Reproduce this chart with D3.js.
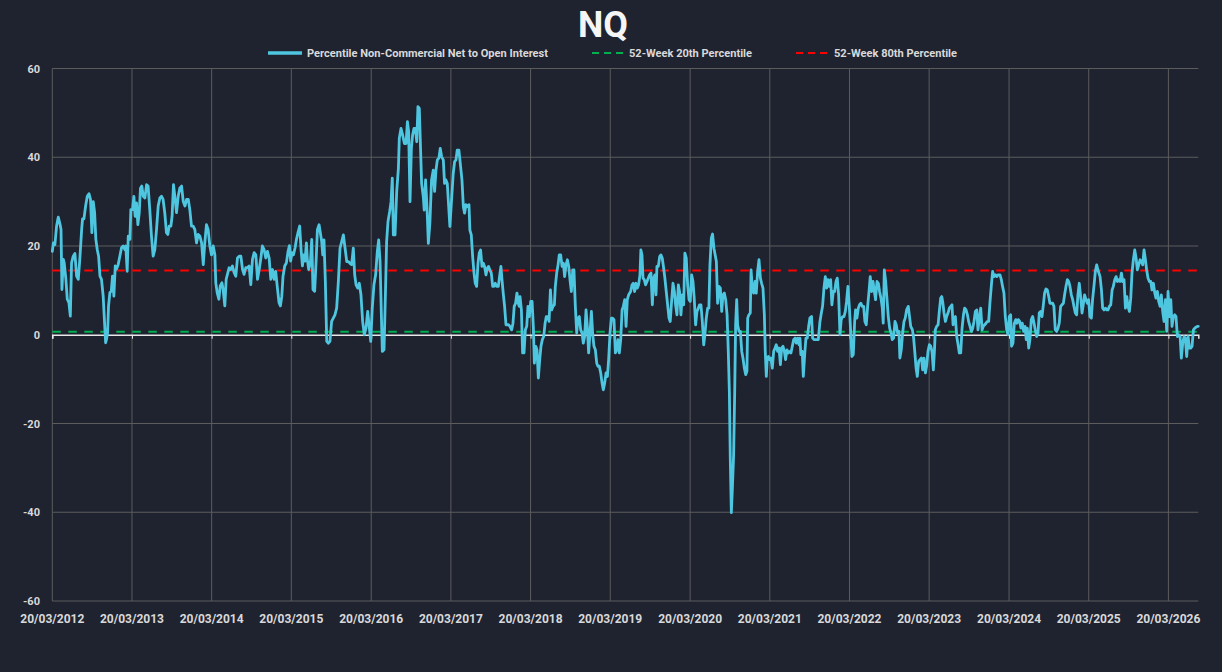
<!DOCTYPE html>
<html>
<head>
<meta charset="utf-8">
<script src="https://cdn.jsdelivr.net/npm/d3@7/dist/d3.min.js"></script>
<style>
  html, body { margin: 0; padding: 0; background: #1f2330; }
  svg { display: block; }
</style>
</head>
<body>
<svg id="chart" width="1222" height="672"></svg>
<script>
// ---------- DATA (week offset from 20/03/2012, value) ----------
const startDate = "2012-03-20";
const lastWeek = 750;
const yTicks = [-60, -40, -20, 0, 20, 40, 60];
const tickYears = [2012, 2013, 2014, 2015, 2016, 2017, 2018, 2019, 2020, 2021, 2022, 2023, 2024, 2025, 2026];
const pct20Level = [0.7];
const pct80Level = [14.5];
const seriesNames = ["Percentile Non-Commercial Net to Open Interest", "52-Week 20th Percentile", "52-Week 80th Percentile"];

const seg2012 = [[0,18.8],[0.7,20.7],[1.7,20.3],[2.8,24.5],[3.9,26.5],[5,25],[5.7,23.7],[6.3,10.2],[7.2,17],[7.8,16.2],[8.9,12.5],[9.8,8],[10.9,7.2],[11.8,4.2],[12.6,16.2],[13.7,17.7],[14.8,18.3],[15.9,13.2],[17,12.5],[18,17],[19.2,23.7],[19.8,26.1],[20.7,26.1],[21.8,29],[22.9,31.2],[24,31.8],[25,30.5],[25.9,23],[26.8,30],[27.7,27.5],[28.5,21.5],[29.4,19.2],[30.3,17.7],[31.2,13.2],[32.2,12.5],[33.3,8.7],[34.2,2.7],[34.9,-1.8],[35.5,-1],[36.2,0.5],[36.8,6.5],[37.7,9.5],[38.6,9.8],[39.4,13.2],[40.3,8.7],[41.2,15.5],[42,14.8],[43.1,15.8],[44.2,17.7],[45.3,19.6],[46.4,20],[47.5,19.2],[48.1,20],[49,14.3],[49.7,22.2],[50.8,21.5],[51.4,28.2],[52.5,28.2],[53.4,31.2],[54.2,26.7],[55.1,29.7],[56,24.8],[56.9,27.5],[57.7,33],[58.6,33.5],[59.5,31.2],[60.6,30.8],[61.7,33.8],[62.7,33.5],[63.8,28.2],[64.9,22.2],[66,17.7],[67.1,19.2],[68.2,23.7],[69.3,29],[70.4,30.8],[71.5,31.2],[72.5,30.5],[73.6,27.5],[74.7,23],[75.6,22.6],[76.5,24.5],[77.6,24.5],[78.4,26.7],[79.3,33.8],[80.2,31.2],[81.3,27.5],[82.4,31.2]];

const seg2014 = [[83.5,33.1],[84.6,33.5],[85.7,30],[86.8,29],[87.9,30.5],[89,30.5],[90,28.2],[91.1,24.5],[92.2,24.5],[93.3,23.7],[94.4,20.7],[95.5,22.6],[96.6,22.2],[97.7,20.7],[98.8,15.8],[99.8,20.7],[100.9,24.8],[102,23.7],[103.1,20],[104.2,18],[105.3,20],[106.4,18],[107,11.7],[107.9,9.5],[109,8],[109.9,11],[111,11.7],[111.8,10.2],[112.9,6.5],[113.8,12.5],[114.9,14],[115.7,15.1],[116.8,14.7],[117.9,15.5],[119,14],[120.1,13.2],[121.2,17.3],[122.3,17.7],[123.4,17.7],[124.5,14.7],[125.5,13.6],[126.6,15.1],[127.7,15.1],[128.8,15.5],[129.9,11.3],[131,17],[132.1,18.5],[133.2,18],[134.3,12.5],[135.4,14.7],[136.4,17],[137.5,20],[138.6,19.2],[139.7,17.3],[140.8,18.8],[141.9,17.3],[143,12.5],[144.1,14.7],[145.2,12.5],[146.2,14.3],[147.3,10.6],[148.4,7.2],[149.3,6.5],[150.2,8.7],[151,13.2],[152.1,15.5],[153.2,16.2],[154.3,18.8],[155.2,20.1],[156,16.6],[156.9,18.5],[157.8,18],[158.9,19.6],[159.8,21.5],[160.8,23],[161.9,24.5],[162.8,19.2],[163.7,15.5],[164.5,18],[165.4,16.6],[166.3,20.7],[166.9,17],[167.8,14.7],[168.9,16.2],[169.8,21.5],[170.6,10.2],[171.7,9.8],[172.6,16.2],[173.5,23.7],[174.6,24.8]];

const seg2015 = [[176.3,21],[177,18],[177.8,21.4],[178.7,12],[179.6,-1.5],[180.7,-1.9],[181.7,-1.5],[182.8,3],[183.9,3.75],[185,4.5],[186.1,6],[187.2,12],[188.3,19.5],[189.4,21],[190.5,22.5],[191.6,19.5],[192.7,16.5],[193.7,16.5],[194.8,16.1],[195.9,15.8],[197,19.5],[197.9,13.5],[198.8,11.25],[199.9,10.5],[200.9,11.6],[202,9],[203.1,3],[204.2,0],[205.3,1.5],[206.4,5.25],[207.5,1.5],[208.4,-1.5],[209.4,6],[210.5,11.25],[211.6,13.5],[212.7,18.75],[213.6,21.4],[214.5,16.5],[215.3,5.25],[216,-3.75],[217.1,-3.4],[218,9],[218.8,21],[219.7,25.5],[220.8,27.8],[221.7,30],[222.5,35.3],[223.2,22.5],[224.3,22.5],[225.4,32.3],[226.5,37.5],[227.1,44.3],[228.2,46.5],[229.3,45],[230.4,43.1],[231.5,43.1],[232.4,48],[233.2,45.8],[234.1,30],[235,42],[235.8,45],[236.7,46.5],[237.6,46.5],[238.5,43.5],[239.3,51.4],[240.2,51]];

const seg2016 = [[241.7,34.1],[242.8,31.1],[243.4,28.1],[244.3,34.9],[245.2,28.9],[246.1,20.6],[247.1,25.1],[248.2,34.9],[249.3,37.1],[250.2,32.3],[251.1,37.1],[252,39.4],[253,39.8],[253.9,42],[254.8,40.1],[255.9,39.4],[256.7,34.1],[257.6,34.9],[258.5,34.1],[259.4,28.9],[260.2,24.4],[261.3,30.4],[262.4,36.4],[263.3,39],[264.2,39.4],[265,41.6],[266.1,41.6],[267,38.6],[268.1,34.9],[269,28.9],[269.8,27.4],[270.7,29.3],[271.8,28.9],[272.7,29.3],[273.3,23.6],[274.2,22.5],[275.1,17.6],[276,13.9],[276.8,11.6],[277.7,10.9],[278.6,16.1],[279.4,18.4],[280.3,19.1],[281.2,15.4],[282.1,16.1],[282.9,15.4],[283.8,13.5],[284.7,15],[285.5,15.4],[286.4,14.6],[287.3,13.9],[288.2,10.9],[289,10.9],[289.9,11.6],[290.8,10.9],[291.9,10.9],[292.7,13.1],[293.6,15.4],[294.3,12.4],[295.1,9.4],[296,6.4],[296.9,2.25],[297.8,2.25],[298.6,2.25],[299.5,1.9],[300.6,1.1],[301.5,2.6],[302.3,6.4],[303.2,7.1],[304.1,9.4],[305,7.1],[305.6,6.4]];

const seg2018 = [[306.1,8.6],[307,5.6],[307.8,-4.1],[308.7,-4.1],[309.6,1.1],[310.5,1.9],[311.3,6.4],[312.2,4.1],[313.1,7.5],[314,7.5],[314.8,1.9],[315.5,-6.4],[316.4,-2.6],[317.2,-3.4],[318.1,-9.75],[319,-5.6],[319.8,-2.6],[320.7,-1.1],[321.6,-0.4],[322.5,2.6],[323.3,4.1],[324.2,4.1],[325.1,3],[326,10.1],[326.8,5.6],[327.7,6.4],[328.6,6.75],[329.2,10.9],[330.1,13.9],[331,15.75],[331.8,18],[332.7,18],[333.6,15.4],[334.5,16.1],[335.3,13.1],[336.2,15.75],[337.1,16.9],[338,15.4],[338.8,12.4],[339.7,9.75],[340.6,14.6],[341.4,14.6],[342.3,6.4],[343.2,0.4],[344,3.75],[344.9,4.1],[345.8,1.1],[346.7,0.4],[347.5,-1.9],[348.4,-0.4],[349.3,5.6],[350.2,1.5],[351,-4.1],[351.9,0.4],[352.8,5.25],[353.7,0],[354.5,-2.6],[355.4,-3.4],[356.3,-6.4],[357.1,-7.1],[358,-7.1],[358.9,-8.6],[359.8,-10.9],[360.6,-12.4],[361.5,-10.9],[362.4,-8.6],[363.3,-9.4],[364.1,-5.6],[365,0.4],[365.9,3.75],[366.7,3.75],[367.6,3.4],[368.5,-4.1],[369.4,-3.4],[370.2,-1.1],[371.1,-4.1],[372,-1.1],[372.9,5.6],[373.7,6.4],[374.6,7.9],[375.5,1.9],[376.3,7.9],[377.2,9]];

const seg2019 = [[378.5,9.75],[379.4,11.25],[380.2,11.6],[381.1,9.75],[382,11.6],[382.8,10.5],[383.7,11.25],[384.6,13.5],[385.2,19.1],[385.9,18],[386.6,12.75],[387.4,12.4],[388.3,11.25],[389.2,12],[390,12.75],[390.9,13.5],[391.8,13.9],[392.7,6.75],[393.5,12.75],[394.4,13.5],[395.1,9],[395.7,15.4],[396.6,15.4],[397.5,17.6],[398.3,18],[399.2,17.25],[400.1,15],[400.9,12.75],[401.8,9.75],[402.7,6.75],[403.6,3.75],[404.4,3],[405.3,7.5],[406.2,11.6],[407.1,9.75],[407.9,6.75],[408.8,4.5],[409.7,11.25],[410.5,9.75],[411.4,4.5],[412.3,9],[413.2,6.75],[414,18.4],[414.9,17.25],[415.8,11.25],[416.7,7.9],[417.5,7.5],[418.4,13.5],[419.3,12],[420.1,8.25],[421,2.25],[421.9,5.25],[422.8,6],[423.6,6.75],[424.5,6.75],[425.4,3],[426.3,-2.25],[427.1,0],[428,3.75],[428.9,6],[429.7,6],[430.4,15.75],[431.3,21.75],[432.1,22.7],[433,19.5]];

const seg2020 = [[434.6,16.5],[435.4,7.1],[436.3,10.9],[437.2,10.5],[438.1,5.25],[438.9,9],[439.8,9.4],[440.7,7.9],[441.6,4.5],[442.4,-3.75],[443.1,-12.75],[443.7,-27.75],[444.4,-40.1],[445,-35.25],[445.9,-27],[446.6,-12.75],[447.2,2.25],[447.9,7.9],[448.5,2.25],[449.4,0.75],[450.3,0.75],[451.2,-3.75],[452,-5.25],[452.9,-7.5],[453.8,-9],[454.6,-8.25],[455.1,3.75],[455.9,4.5],[456.8,4.9],[457.3,14.6],[458.1,10.5],[459,9.4],[459.9,12],[460.7,9.4],[461.6,14.25],[462.5,16.9],[463.4,12.75],[464.2,11.6],[465.1,10.5],[466,4.5],[466.6,-3.75],[467.3,-9.4],[467.9,-5.25],[468.6,-4.9],[469.5,-5.6],[470.3,-5.25],[471.2,-7.5],[472.1,-3.75],[473,-3],[473.8,-2.25],[474.7,-3.75],[475.6,-3],[476.5,-6.75],[477.3,-3],[478.2,-2.6],[479.1,-3.75],[479.9,-5.6],[480.8,-3.4],[481.7,-4.1],[482.6,-3.75],[483.4,-4.1],[484.3,-2.6],[485.2,-1.1],[486.1,-0.75],[486.9,-1.9],[487.8,-0.75],[488.7,-2.25]];

const seg2021 = [[489.3,-0.75],[489.9,-4.5],[490.8,-3.75],[491.5,-9.4],[492.4,-4.5],[493.2,-0.75],[494.1,-0.75],[495,1.9],[495.8,3.75],[496.9,4.1],[497.6,-0.75],[498.5,-1.1],[499.3,-1.1],[500.2,-1.1],[501.3,-1.1],[502.4,3],[503.3,4.9],[504.1,6.4],[505,10.5],[505.9,13.1],[506.8,10.5],[507.6,12.4],[508.5,10.9],[509.4,12.4],[510.2,6.75],[511.1,9.75],[512,9.75],[512.9,12],[513.7,12.75],[514.6,9],[515.5,0],[516.3,3.4],[517.2,4.1],[518.1,4.1],[519,5.25],[519.8,7.5],[520.7,10.9],[521.6,6.4],[522.5,0.75],[523.3,-4.9],[524.2,-4.5],[525.1,3],[525.7,5.6],[526.6,3.75],[527.5,6],[528.3,6.75],[529.2,7.1],[530.1,6.4],[531,6.4],[531.8,3],[532.7,2.25],[533.6,6.4],[534.5,9.75],[535.3,13.1],[536.2,9.75],[537.1,12],[538,9.75],[538.8,7.9],[539.7,12],[540.6,11.6],[541.4,9.75],[542.3,8.25],[543.2,6],[543.8,2.6],[544.5,14.6],[545.4,12],[546.2,8.25],[547.1,4.1],[548,1.5],[548.9,0.4],[549.7,-1.1],[550.6,-0.75],[551.5,3],[552.3,2.25],[553.2,0.4],[554.1,0.75],[554.7,-5.25],[555.6,-3.4],[556.5,0.4],[557.4,3],[558.2,3.75],[559.1,5.6],[560.2,6.4]];

const seg2023 = [[561.8,1.9],[562.9,1.1],[563.7,-0.75],[564.6,-4.5],[565.3,-7.5],[566.1,-9.4],[567,-6],[567.9,-5.6],[568.8,-5.25],[569.6,-7.9],[570.5,-5.25],[571.4,-8.6],[572.3,-6.75],[573.1,-3.75],[574,-2.25],[574.9,-2.6],[575.7,-3.75],[576.6,-7.9],[577.3,-3.75],[577.9,1.1],[578.8,1.9],[579.7,2.25],[580.5,5.25],[581.4,8.25],[582.1,8.6],[582.7,7.5],[583.6,4.9],[584.5,3],[585.3,4.1],[586.2,4.9],[587.1,6],[588,6.4],[588.8,6.75],[589.5,2.25],[590.1,3.75],[591,4.1],[591.9,-0.4],[592.8,-2.25],[593.6,-4.1],[594.5,-4.1],[595.4,1.5],[596.3,4.5],[597.1,6],[598,5.6],[598.9,4.5],[599.7,3],[600.6,1.9],[601.5,0.75],[602.4,1.5],[603.2,3],[604.1,5.25],[605,5.6],[605.8,1.1],[606.7,3.75],[607.6,6],[608.5,1.1],[609.3,1.9],[610.2,2.25],[611.1,2.6],[612,3],[612.8,3],[613.7,7.5],[614.6,11.25],[615.4,14.25],[616.3,13.1],[617.2,13.5],[618.1,13.1],[618.9,13.5]];

const seg2024 = [[620.2,13.5],[621.1,12.4],[621.9,10.9],[622.8,9.4],[623.7,4.1],[624.6,1.1],[625.4,0],[626.3,4.1],[627.2,4.5],[627.8,-2.6],[628.7,-1.9],[629.6,2.6],[630.5,3.4],[631.3,2.6],[632.2,3.4],[633.1,3],[633.9,1.5],[634.8,2.6],[635.7,0.75],[636.6,1.9],[637.4,-1.1],[638.1,1.5],[639,-3],[639.8,-1.1],[640.7,3.4],[641.6,4.1],[642.5,2.6],[643.3,1.1],[644.2,-0.4],[645.1,0.4],[645.9,4.9],[646.8,5.25],[647.7,4.1],[648.6,6.75],[649.4,9.4],[650.3,10.3],[651.2,10.1],[652.1,8.6],[652.9,7.1],[653.8,7.1],[654.7,7.1],[655.5,6.4],[656.4,1.1],[657.3,0.75],[658.2,1.5],[659,2.6],[659.9,6.4],[660.8,6.75],[661.7,7.1],[662.5,9],[663.4,10.9],[664.3,12.4],[665.2,12],[666,10.9],[666.9,9],[667.8,7.9],[668.6,6.4],[669.5,4.9],[670.4,4.5],[671.2,9],[672.1,11.6],[673,8.6],[673.9,4.9],[674.7,6.75],[675.6,9],[676.5,7.9],[677.4,7.1],[678.2,7.9],[679.1,4.1],[680,3.75],[680.8,7.9],[681.7,10.9],[682.6,14.25],[683.5,15.75],[684.3,14.6]];

const seg2025 = [[685.7,13.1],[686.6,10.1],[687.4,6],[688.3,5.6],[689.2,6],[690.1,5.6],[690.9,5.6],[691.8,6.4],[692.7,6.75],[693.6,10.1],[694.4,10.9],[695.3,12.4],[696.2,13.1],[697.1,12],[697.9,12.4],[698.8,12],[699.7,13.9],[700.5,12],[701.4,12.4],[702.3,6],[703.2,8.6],[704,6.4],[704.9,5.25],[705.8,8.25],[706.6,13.9],[707.5,16.9],[708.4,19.1],[709.3,17.25],[710.1,14.6],[711,15.75],[711.9,16.9],[712.8,16.5],[713.6,15.75],[714.5,19.1],[715.4,16.9],[716.2,14.6],[717.1,12.75],[718,12],[718.9,12],[719.7,10.1],[720.6,11.6],[721.5,9.4],[722.3,8.25],[723.2,9.75],[724.1,7.5],[725,6.4],[725.8,9],[726.7,5.25],[727.6,3],[728.5,7.9],[729.3,0.75],[730.2,9.75],[731.1,4.1],[732,7.9],[732.8,1.9],[733.7,4.1],[734.6,4.5],[735.4,4.1],[736.3,-0.4],[737.2,0],[738.1,-0.4],[738.9,-5.25],[739.8,-1.9],[740.7,-0.4],[741.5,-0.75],[742.4,-4.9],[743.3,-0.4],[744.2,-3],[745,-3],[745.9,-2.6],[746.8,1.1],[747.7,1.5],[748.5,1.7],[749.4,1.9],[750,1.9]];

// ---------- BUILD ----------
const DAY = 86400000;
const t0 = new Date(startDate + "T00:00:00Z").getTime();
const toDate = w => new Date(t0 + w * 7 * DAY);
const series = [].concat(seg2012, seg2014, seg2015, seg2016, seg2018, seg2019, seg2020, seg2021, seg2023, seg2024, seg2025)
  .map(([w, v]) => ({ date: toDate(w), value: v }));

const W = 1222, H = 672;
const margin = { left: 52.3, right: W - 1198.3, top: 68.5, bottom: H - 601 };
const svg = d3.select("#chart");
svg.append("rect").attr("width", W).attr("height", H).attr("fill", "#1f2330");

const x = d3.scaleUtc().domain([toDate(0), toDate(lastWeek)]).range([margin.left, W - margin.right]);
const y = d3.scaleLinear().domain([-60, 60]).range([H - margin.bottom, margin.top]);
const tickDates = tickYears.map(yr => new Date(Date.UTC(yr, 2, 20)));

const FONT = "'Liberation Sans Narrow', 'Roboto', 'Liberation Sans', sans-serif";
const gridColor = "#5c5c5c";
const textColor = "#d9d9d9";

// horizontal grid
svg.append("g").selectAll("line").data(yTicks.filter(d => d !== 0)).join("line")
  .attr("x1", x.range()[0]).attr("x2", x.range()[1])
  .attr("y1", d => y(d)).attr("y2", d => y(d))
  .attr("stroke", gridColor).attr("stroke-width", 1);

// vertical grid
svg.append("g").selectAll("line").data(tickDates).join("line")
  .attr("x1", d => x(d)).attr("x2", d => x(d))
  .attr("y1", y(60)).attr("y2", y(-60))
  .attr("stroke", gridColor).attr("stroke-width", 1);

// y labels
svg.append("g").selectAll("text").data(yTicks).join("text")
  .attr("x", 40).attr("y", d => y(d) + 4)
  .attr("text-anchor", "end")
  .attr("fill", textColor).attr("font-family", FONT).attr("font-weight", "bold").attr("font-size", 11)
  .text(d => d);

// x labels
const fmt = d3.utcFormat("%d/%m/%Y");
svg.append("g").selectAll("text").data(tickDates).join("text")
  .attr("x", d => x(d)).attr("y", 623)
  .attr("text-anchor", "middle")
  .attr("fill", textColor).attr("font-family", FONT).attr("font-weight", "bold").attr("font-size", 12)
  .text(d => fmt(d));

// zero axis line with ticks
const xAxis = d3.axisBottom(x).tickValues(tickDates).tickSize(4).tickFormat("");
const ax = svg.append("g").attr("transform", `translate(0,${y(0)})`).call(xAxis);
ax.select(".domain").attr("stroke", "#e8e8e8").attr("stroke-width", 1.5);
ax.selectAll(".tick line").attr("stroke", "#e8e8e8");

// percentile lines
const levelLine = (vals, color) => svg.append("line")
  .attr("x1", x.range()[0]).attr("x2", x.range()[1])
  .attr("y1", y(vals[0])).attr("y2", y(vals[0]))
  .attr("stroke", color).attr("stroke-width", 2).attr("stroke-dasharray", "8.5,7.5");
levelLine(pct20Level, "#00b050");
levelLine(pct80Level, "#ff0000");

// main series
const line = d3.line().x(d => x(d.date)).y(d => y(d.value)).curve(d3.curveLinear);
svg.append("path").datum(series)
  .attr("d", line).attr("fill", "none")
  .attr("stroke", "#4fc6e0").attr("stroke-width", 2.8)
  .attr("stroke-linejoin", "round").attr("stroke-linecap", "round");

// title
svg.append("text").attr("x", 603).attr("y", 37).attr("text-anchor", "middle")
  .attr("fill", "#f5f5f5").attr("font-family", FONT).attr("font-weight", "bold").attr("font-size", 36)
  .attr("textLength", 50).attr("lengthAdjust", "spacingAndGlyphs")
  .text("NQ");

// legend
const legend = [
  { name: seriesNames[0], color: "#4fc6e0", dash: null, sx: 268, tx: 307, tw: 241 },
  { name: seriesNames[1], color: "#00b050", dash: "7,5", sx: 592, tx: 629, tw: 123 },
  { name: seriesNames[2], color: "#ff0000", dash: "7,5", sx: 796, tx: 834, tw: 123 }
];
const lg = svg.append("g");
legend.forEach(l => {
  lg.append("line").attr("x1", l.sx).attr("x2", l.sx + 34).attr("y1", 53).attr("y2", 53)
    .attr("stroke", l.color).attr("stroke-width", l.dash ? 2 : 3.5)
    .attr("stroke-dasharray", l.dash);
  lg.append("text").attr("x", l.tx).attr("y", 57)
    .attr("fill", textColor).attr("font-family", FONT).attr("font-weight", "bold").attr("font-size", 11)
    .attr("textLength", l.tw).attr("lengthAdjust", "spacingAndGlyphs")
    .text(l.name);
});
</script>
</body>
</html>
